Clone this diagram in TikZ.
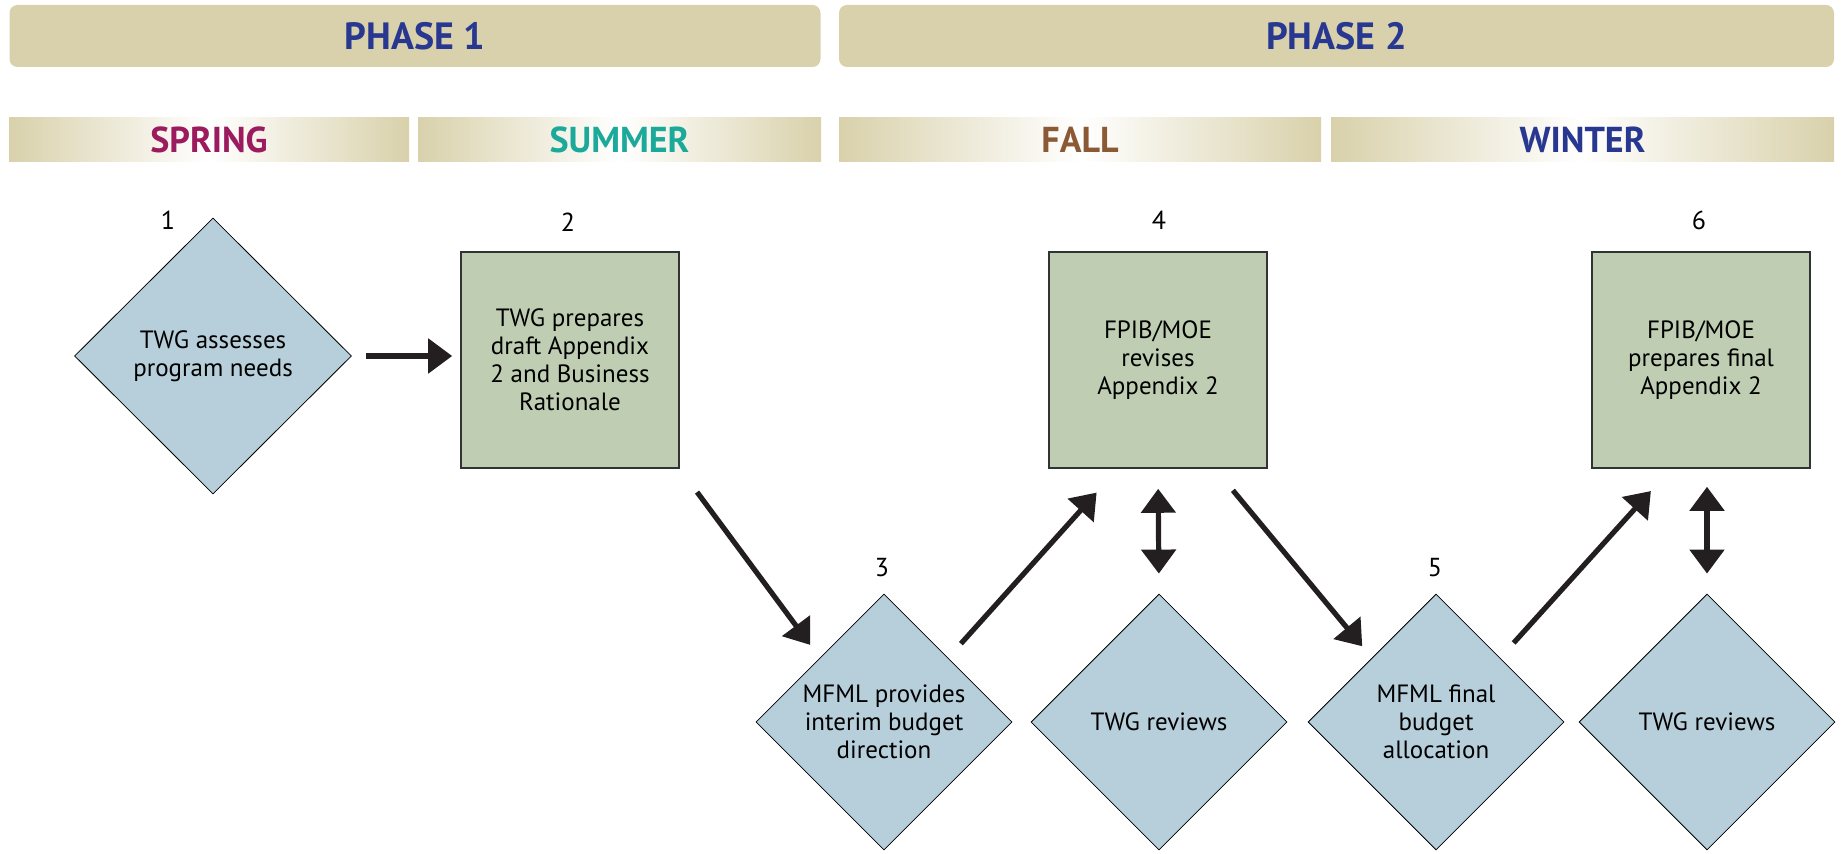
\documentclass[tikz,border=0pt]{standalone}
\usepackage{fontspec}
\setmainfont{PT Sans}
\usetikzlibrary{shapes.geometric, arrows.meta}

\definecolor{bartan}{HTML}{D9D1AB}
\definecolor{phaseblue}{HTML}{283891}
\definecolor{springc}{HTML}{9C1A5E}
\definecolor{summerc}{HTML}{1BA99A}
\definecolor{fallc}{HTML}{8B5A35}
\definecolor{stepblue}{HTML}{B7CFDB}
\definecolor{stepgreen}{HTML}{BFCEB3}
\definecolor{arrowc}{HTML}{231F20}

\begin{document}
\begin{tikzpicture}[x=0.5pt, y=-0.5pt, >={Triangle[length=12pt, width=17pt]},
	phase/.style={fill=bartan, rounded corners=4pt, minimum height=31pt, inner sep=0pt,
		text=phaseblue, font=\fontsize{19}{22}\selectfont\bfseries},
	season/.style={left color=bartan, right color=bartan, middle color=white,
		minimum height=22pt, inner sep=0pt, font=\fontsize{18}{21}\selectfont\bfseries},
	dia/.style={diamond, aspect=1, draw, thin, fill=stepblue, inner sep=0pt,
		minimum width=128pt, minimum height=128pt, align=center,
		font=\fontsize{12.5}{14}\selectfont},
	box/.style={rectangle, draw=black!80, line width=0.8pt, fill=stepgreen,
		minimum width=109pt, minimum height=108pt, align=center,
		font=\fontsize{12.5}{14}\selectfont},
	num/.style={font=\fontsize{13}{15}\selectfont},
	flow/.style={->, line width=2.6pt, arrowc}]
	\useasboundingbox (0,0) rectangle (1845,854);
	\node[phase, minimum width=405.5pt] (ph1) at (415,36) {PHASE 1};
	\node[phase, minimum width=497.5pt] (ph2) at (1336.5,36) {PHASE 2};
	\foreach \s/\cx/\w/\c in {SPRING/209/200/springc, SUMMER/619.5/201.5/summerc,
		FALL/1080/241/fallc, WINTER/1582.5/251.5/phaseblue}
		{
			\node[season, minimum width=\w pt, text=\c] (\s) at (\cx,140) {\s};
		}
	\node[dia, minimum width=138.5pt, minimum height=138pt] (d1) at (213,356) {TWG assesses\\program needs};
	\node[box] (r2) at (570,360) {TWG prepares\\draft Appendix\\2 and Business\\Rationale};
	\node[dia] (d3) at (884,722) {MFML provides\\interim budget\\direction};
	\node[box] (r4) at (1158,360) {FPIB/MOE\\revises\\Appendix 2};
	\node[dia] (tw4) at (1159,722) {TWG reviews};
	\node[dia] (d5) at (1436,722) {MFML final\\budget\\allocation};
	\node[box] (r6) at (1701,360) {FPIB/MOE\\prepares final\\Appendix 2};
	\node[dia] (tw6) at (1707,722) {TWG reviews};
	\node[num] (n1) at (168,220) {1};
	\node[num] (n2) at (568,222) {2};
	\node[num] (n3) at (882,568) {3};
	\node[num] (n4) at (1159,220) {4};
	\node[num] (n5) at (1435,568) {5};
	\node[num] (n6) at (1699,220) {6};
	\draw[flow, shorten <=7pt, shorten >=4pt] (d1.east) -- (d1.east -| r2.west);
	\draw[flow, shorten <=14.5pt, shorten >=8pt] (r2.south east) -- (d3.north west);
	\draw[flow, shorten <=9.5pt, shorten >=16pt] (d3.north east) -- ([xshift=-20pt]r4.south);
	\draw[flow, <->, shorten <=10pt, shorten >=10pt] (r4.south) -- (tw4.north);
	\draw[flow, shorten <=14pt, shorten >=7.5pt] ([xshift=28.5pt]r4.south) -- (d5.north west);
	\draw[flow, shorten <=10pt, shorten >=15pt] (d5.north east) -- ([xshift=-15pt]r6.south);
	\draw[flow, <->, shorten <=9pt, shorten >=10pt] (tw6.north |- r6.south) -- (tw6.north);
\end{tikzpicture}
\end{document}
